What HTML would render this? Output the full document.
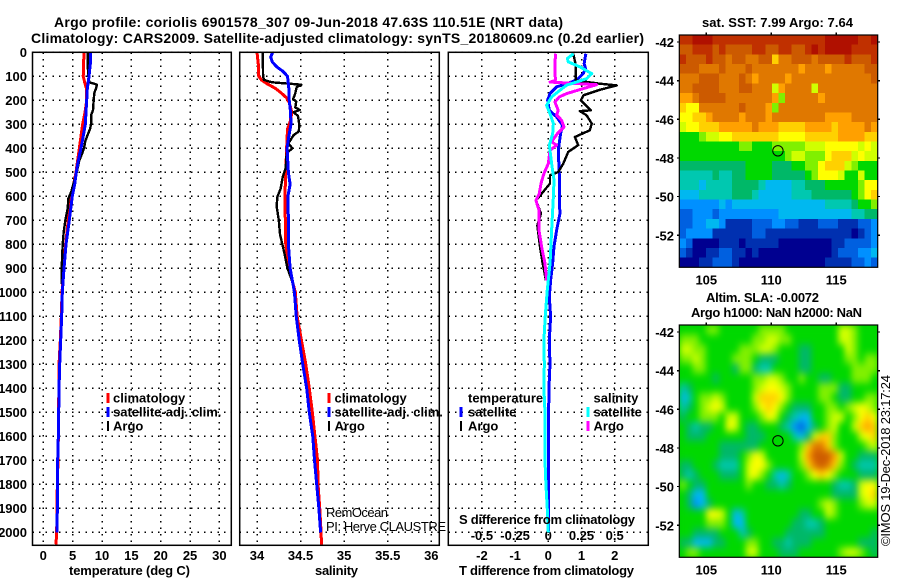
<!DOCTYPE html>
<html>
<head>
<meta charset="utf-8">
<title>Argo profile</title>
<style>
html,body{margin:0;padding:0;background:#fff;}
svg{display:block;font-family:"Liberation Sans",sans-serif;}
text{fill:#000;}
.b{font-weight:700;font-size:13px;}
.t{font-weight:700;font-size:14px;}
.n{font-weight:400;font-size:13px;}
</style>
</head>
<body>
<svg id="chart" xmlns="http://www.w3.org/2000/svg" width="900" height="580" viewBox="0 0 900 580">
<defs>
<filter id="smooth" x="-5%" y="-5%" width="110%" height="110%" color-interpolation-filters="sRGB"><feGaussianBlur stdDeviation="3.2 4"/></filter>
<clipPath id="slaClip"><rect x="679.3" y="325" width="198.4" height="232.3"/></clipPath>
</defs>
<rect x="0" y="0" width="900" height="580" fill="#fff"/>
<text class="t" x="54" y="27" textLength="509" lengthAdjust="spacing">Argo profile: coriolis 6901578_307 09-Jun-2018 47.63S 110.51E (NRT data)</text>
<text class="t" x="31" y="43" textLength="613" lengthAdjust="spacing">Climatology: CARS2009. Satellite-adjusted climatology: synTS_20180609.nc (0.2d earlier)</text>
<text class="b" x="702" y="27" textLength="151" lengthAdjust="spacing">sat. SST: 7.99 Argo: 7.64</text>
<text class="b" x="706" y="302" textLength="113" lengthAdjust="spacing">Altim. SLA: -0.0072</text>
<text class="b" x="691" y="317" textLength="171" lengthAdjust="spacing">Argo h1000: NaN h2000: NaN</text>
<text class="b" x="69" y="575" textLength="121" lengthAdjust="spacing">temperature (deg C)</text>
<text class="b" x="315" y="575" textLength="43" lengthAdjust="spacing">salinity</text>
<text class="b" x="459" y="575" textLength="175" lengthAdjust="spacing">T difference from climatology</text>
<g id="plots"></g>
<g id="maps"></g>
<text class="n" x="326" y="517" textLength="62" lengthAdjust="spacing">RemOcean</text>
<text class="n" x="326" y="531" textLength="120" lengthAdjust="spacing">PI: Herve CLAUSTRE</text>
<text class="b" x="459" y="524" textLength="176" lengthAdjust="spacing">S difference from climatology</text>
<text class="n" transform="translate(890,546) rotate(-90)" x="0" y="0" textLength="171" lengthAdjust="spacing">©IMOS 19-Dec-2018 23:17:24</text>
</svg>
<script>
var depthTicks = [0,100,200,300,400,500,600,700,800,900,1000,1100,1200,1300,1400,1500,1600,1700,1800,1900,2000];
var tempTicks = [0,5,10,15,20,25,30];
var salTicks = [34,34.5,35,35.5,36];
var salTickLabels = ["34","34.5","35","35.5","36"];
var diffTTicks = [-2,-1,0,1,2];
var diffSTicks = [-0.5,-0.25,0,0.25,0.5];
var diffSTickLabels = ["-0.5","-0.25","0","0.25","0.5"];
var lonTicks = [105,110,115];
var latTicks = [-42,-44,-46,-48,-50,-52];
var argoLon = 110.51;
var argoLat = -47.63;

var climTDepth = [0,100,130,150,200,250,300,350,400,450,500,550,600,700,800,900,1000,1100,1200,1300,1400,1500,1600,1700,1800,1900,2000,2050];
var climTValue = [6.93,6.8,7.1,7.33,7.4,7.1,6.7,6.42,6.14,5.85,5.57,5.17,4.78,4.26,3.8,3.47,3.19,3.07,2.9,2.68,2.68,2.56,2.56,2.5,2.39,2.33,2.28,2.16];
var satTDepth = [0,50,100,150,200,250,300,350,400,450,500,550,600,700,800,900,1000,1100,1200,1300,1400,1500,1600,1700,1800,1900,2000];
var satTValue = [8.07,8.0,7.79,7.5,7.39,7.27,7.16,6.8,6.42,5.97,5.62,5.35,4.94,4.43,3.87,3.53,3.24,3.13,2.96,2.79,2.68,2.62,2.56,2.45,2.39,2.39,2.33];
var argoTDepth = [0,50,100,125,130,135,150,170,200,240,260,290,320,340,370,400,420,450,500,550,580,610,650,700,750,800,900,965];
var argoTValue = [7.56,7.56,7.67,7.84,8.52,9.15,8.98,8.69,8.58,8.47,8.18,8.2,7.96,7.62,7.16,6.93,6.65,6.14,5.69,5.11,4.77,4.26,4.16,3.75,3.47,3.3,3.13,3.13];

var climSDepth = [0,50,100,115,130,150,170,190,210,250,290,320,400,500,600,700,800,850,900,1000,1100,1200,1300,1400,1500,1600,1700,1800,1900,2000,2050];
var climSValue = [34,34.015,34.02,34.05,34.11,34.21,34.28,34.34,34.37,34.4,34.38,34.35,34.34,34.33,34.32,34.325,34.33,34.35,34.365,34.44,34.46,34.51,34.56,34.6,34.635,34.665,34.695,34.7,34.72,34.735,34.74];
var satSDepth = [0,20,40,60,80,100,150,200,250,300,350,400,500,550,600,700,800,900,1000,1100,1200,1300,1400,1500,1600,1700,1800,1900,2000];
var satSValue = [34.18,34.157,34.175,34.225,34.3,34.35,34.365,34.37,34.385,34.39,34.365,34.345,34.36,34.38,34.355,34.36,34.36,34.38,34.43,34.45,34.485,34.525,34.57,34.6,34.64,34.66,34.685,34.71,34.73];
var argoSDepth = [0,100,115,125,130,135,145,170,195,205,230,240,250,265,300,330,345,380,400,420,480,520,570,600,640,700,760,830,900,960];
var argoSValue = [34.065,34.07,34.08,34.17,34.34,34.51,34.455,34.44,34.415,34.45,34.44,34.49,34.42,34.47,34.485,34.48,34.42,34.36,34.405,34.34,34.33,34.295,34.27,34.235,34.225,34.25,34.265,34.31,34.35,34.41];

var diffSatTDepth = [6,47,68,89,110,124,144,172,200,242,269,304,339,408,505,603,672,742,811,880,950,1019,1100,1200,1300,1400,1600,2000];
var diffSatTValue = [1.13,1.08,1.12,1.05,0.9,0.7,0.25,0.05,-0.02,0.03,0.25,0.43,0.37,0.3,0.33,0.33,0.35,0.25,0.17,0.13,0.07,0.03,0.07,0.03,0.05,0.02,0,0];
var diffArgoTDepth = [6,47,117,130,138,156,179,200,242,245,262,297,325,353,387,415,464,499,512,547,589,617,672,721,811,880,950];
var diffArgoTValue = [0.75,0.82,0.83,1.5,2.06,1.56,1.06,0.98,1.28,0.95,1.15,1.31,1.25,0.8,0.9,0.6,0.45,0.3,0.05,0.05,-0.2,-0.37,-0.22,-0.33,-0.25,-0.17,-0.07];
var diffSatSDepth = [6,26,40,61,89,110,137,158,186,221,256,297,339,387,464,533,603,742,880,992,1100,1200,1300,1400,1500,1600,1700,1800,1900,2000];
var diffSatSValue = [0.189,0.143,0.151,0.239,0.327,0.289,0.138,0.088,0.025,-0.013,0.013,0.038,0.033,0.008,0.025,0.043,0.038,0.025,0.013,-0.008,-0.023,-0.033,-0.03,-0.033,-0.025,-0.023,-0.025,-0.018,-0.008,0];
var diffArgoSDepth = [6,47,117,124,135,151,172,186,207,242,262,283,311,339,373,387,408,464,505,547,589,617,658,700,742,811,880,950];
var diffArgoSValue = [0.055,0.05,0.053,0.013,0.363,0.264,0.138,0.083,0.05,0.075,0.063,0.1,0.118,0.068,0.025,0.063,0.013,0,-0.033,-0.055,-0.068,-0.093,-0.07,-0.07,-0.07,-0.05,-0.025,-0.013];

var colorLevels = {"0":"#000090","1":"#0030b0","2":"#0060e0","3":"#0090ff","4":"#00b8f0","5":"#00c8b0","6":"#00b868","7":"#00d800","8":"#80f000","9":"#d0ff00","a":"#ffff00","b":"#ffd000","c":"#ffa000","d":"#e07800","e":"#cc5a00","f":"#c03000","g":"#b01000"};

var sstRows = [
"ffggg fffff fffff fffff ffggg ggffg",
"eefff efeee effee ffeef gfggg gffff",
"feeef eedee ddeeb ddeee deeee feeef",
"eeedd deddd edddd dddcd ddcdd dddee",
"dddee eddde dcddd dcddd ddddd dddde",
"ddeee eddde eddd9 cdddd 9dddd ddddd",
"ccdee eeddd ddddc 8dddd dcddd ddddd",
"baadd dddde dddc8 ddddd ddddd ddddd",
"aabbc ddddc dddcd ddddd ddccc cdddd",
"9aabb bcccc cdccc bbbbc cccbc cccdc",
"77789 9aabb bbbbb aaaab bbbbc cccbb",
"77777 77778 87778 88889 99aaa aa9a9",
"77777 77777 77777 78998 88abb b9a99",
"66666 66666 77776 66778 8abbb 98777",
"55555 65566 77776 66667 8aaa9 77977",
"55545 55566 66544 44556 66777 778aa",
"44455 55566 65444 44555 66666 678ab",
"33333 34344 44444 44444 44555 56778",
"22333 23333 33333 44444 44444 45566",
"22334 43111 12223 32211 12221 11223",
"23333 11111 12211 11111 11111 10123",
"32000 01110 11111 00000 00011 22223",
"21001 12211 01000 00000 00012 22334",
"00011 22210 00000 00000 00111 12232"
];
var slaRows = [
"77778 87777 77888 87777 77779 98777",
"88877 77777 78899 88777 77779 98777",
"99887 77778 88998 77766 77777 98777",
"88987 77788 87666 77766 77777 88788",
"77887 77768 86557 77766 77777 78888",
"77777 67777 78899 87787 76677 78887",
"56777 77777 789aa 98777 78886 67777",
"45788 98777 79bbb a8777 78876 67788",
"56789 a9777 78aba 87666 77887 89a98",
"67788 87997 778a9 76544 77899 78aba",
"76566 77a97 66777 65324 67897 79bcb",
"76667 77777 66677 77546 9bb87 779ab",
"77777 76666 66777 7778b ddb87 77789",
"77777 76667 8a977 7779c eeec9 77666",
"66777 65557 9aa87 7778b dedb8 76555",
"65677 76667 9a875 45778 aba87 77666",
"87667 77777 87766 56777 77765 569aa",
"76447 77777 77777 77777 77766 669ab",
"76346 77777 77777 77777 78987 77899",
"7777a a9745 77777 77766 77987 77777",
"77778 88744 77777 77665 56777 77777",
"77666 67775 67777 76666 66777 77776",
"66444 66777 88776 65666 77777 77666",
"78877 77777 99777 66677 77778 99876"
];

var NS = "http://www.w3.org/2000/svg";
var DEPTH_TOP = 52.3, DEPTH_SCALE = 0.24, PLOT_BOTTOM = 545.3;
function yDepth(d){ return DEPTH_TOP + DEPTH_SCALE * d; }
function xTemp(t){ return 43.3 + 5.87 * t; }
function xSal(s){ return 257 + 87.15 * (s - 34); }
function xDiffT(v){ return 548.3 + 33.2 * v; }
function xDiffS(v){ return 548.3 + 132.8 * v; }
function xLon(lon){ return 771.3 + 13 * (lon - 110); }
function yLatTop(lat){ return 42 + 19.33 * (-42 - lat); }

function svgEl(tag, parent, attrs){
  var el = document.createElementNS(NS, tag);
  for (var k in attrs) el.setAttribute(k, attrs[k]);
  parent.appendChild(el);
  return el;
}
function addText(parent, str, x, y, anchor, name){
  var t = svgEl("text", parent, {x:x, y:y, "text-anchor":anchor, "class":"b"});
  t.textContent = str;
  
  
  return t;
}
function addLine(parent, x1, y1, x2, y2, stroke, width, dash, name){
  var l = svgEl("line", parent, {x1:x1, y1:y1, x2:x2, y2:y2, stroke:stroke, "stroke-width":width, "shape-rendering":"crispEdges"});
  if (dash) l.setAttribute("stroke-dasharray", dash);
  
  
  return l;
}
function addSeries(parent, depths, values, xFn, color, width, name){
  var pts = [];
  for (var i = 0; i < depths.length; i++) pts.push(xFn(values[i]).toFixed(2) + "," + yDepth(depths[i]).toFixed(2));
  var p = svgEl("polyline", parent, {points:pts.join(" "), fill:"none", stroke:color, "stroke-width":width, "stroke-linejoin":"round", "shape-rendering":"crispEdges"});
  
  
  return p;
}
function addPanel(root, name, left, right, xTicks, xFn, labels){
  var g = svgEl("g", root, {});
  
  
  depthTicks.forEach(function(d){
    addLine(g, left, yDepth(d), right, yDepth(d), "#000", 1.5, "1.5 5.1", name + "-depth-grid");
  });
  xTicks.forEach(function(v, i){
    addLine(g, xFn(v), DEPTH_TOP, xFn(v), PLOT_BOTTOM, "#000", 1.5, "1.5 5.1", name + "-x-grid");
    addText(g, labels ? labels[i] : String(v), xFn(v), 560, "middle", name + "-x-tick-label");
  });
  return g;
}
function addFrame(g, left, right, name){
  var r = svgEl("rect", g, {x:left, y:DEPTH_TOP, width:right-left, height:PLOT_BOTTOM-DEPTH_TOP, fill:"none", stroke:"#000", "stroke-width":1.5});
  
  
}
function addLegend(parent, barX, textX, centerY, color, width, label, name){
  if (color) addLine(parent, barX, centerY - 5, barX, centerY + 5, color, width, null, name + "-swatch");
  addText(parent, label, textX, centerY + 4.5, "start", name);
}

var plots = document.getElementById("plots");
depthTicks.forEach(function(d){
  addText(plots, String(d), 27, yDepth(d) + 4.5, "end", "depth-tick-label");
});

var p1 = addPanel(plots, "temperature-panel", 32.5, 231.3, tempTicks, xTemp);
addSeries(p1, climTDepth, climTValue, xTemp, "#ff0000", 3, "temperature-climatology-line");
addSeries(p1, argoTDepth, argoTValue, xTemp, "#000000", 2.4, "temperature-argo-line");
addSeries(p1, satTDepth, satTValue, xTemp, "#0000ff", 3, "temperature-satellite-line");
addFrame(p1, 32.5, 231.3, "temperature-panel-frame");
addLegend(p1, 108, 113, 398, "#ff0000", 3, "climatology", "temperature-legend-climatology");
addLegend(p1, 108, 113, 412, "#0000ff", 3, "satellite-adj. clim.", "temperature-legend-satellite");
addLegend(p1, 108, 113, 426, "#000000", 2, "Argo", "temperature-legend-argo");

var p2 = addPanel(plots, "salinity-panel", 239.7, 439.3, salTicks, xSal, salTickLabels);
addSeries(p2, climSDepth, climSValue, xSal, "#ff0000", 3, "salinity-climatology-line");
addSeries(p2, argoSDepth, argoSValue, xSal, "#000000", 2.4, "salinity-argo-line");
addSeries(p2, satSDepth, satSValue, xSal, "#0000ff", 3, "salinity-satellite-line");
addFrame(p2, 239.7, 439.3, "salinity-panel-frame");
addLegend(p2, 329, 334.5, 398, "#ff0000", 3, "climatology", "salinity-legend-climatology");
addLegend(p2, 329, 334.5, 412, "#0000ff", 3, "satellite-adj. clim.", "salinity-legend-satellite");
addLegend(p2, 329, 334.5, 426, "#000000", 2, "Argo", "salinity-legend-argo");

var p3 = addPanel(plots, "difference-panel", 448.3, 648.3, diffTTicks, xDiffT);
diffSTicks.forEach(function(v, i){
  addText(p3, diffSTickLabels[i], xDiffS(v), 540, "middle", "s-difference-tick-label");
});
addSeries(p3, diffSatTDepth, diffSatTValue, xDiffT, "#0000ff", 3, "t-difference-satellite-line");
addSeries(p3, diffArgoTDepth, diffArgoTValue, xDiffT, "#000000", 2.4, "t-difference-argo-line");
addSeries(p3, diffArgoSDepth, diffArgoSValue, xDiffS, "#ff00ff", 3, "s-difference-argo-line");
addSeries(p3, diffSatSDepth, diffSatSValue, xDiffS, "#00ffff", 3, "s-difference-satellite-line");
addFrame(p3, 448.3, 648.3, "difference-panel-frame");
addLegend(p3, 461, 468, 398, null, 0, "temperature", "difference-legend-temperature-heading");
addLegend(p3, 461, 468, 412, "#0000ff", 3, "satellite", "difference-legend-t-satellite");
addLegend(p3, 461, 468, 426, "#000000", 2, "Argo", "difference-legend-t-argo");
addLegend(p3, 588, 593.5, 398, null, 0, "salinity", "difference-legend-salinity-heading");
addLegend(p3, 588, 593.5, 412, "#00ffff", 3, "satellite", "difference-legend-s-satellite");
addLegend(p3, 588, 593.5, 426, "#ff00ff", 3, "Argo", "difference-legend-s-argo");

function addMap(rows, offsetY, name, smooth){
  var root = document.getElementById("maps");
  var g = svgEl("g", root, {});
  
  
  var left = 679.3, right = 877.7, top = 35 + offsetY, bottom = 267.3 + offsetY;
  var cw = (right - left) / 30, ch = (bottom - top) / rows.length;
  svgEl("rect", g, {x:left, y:top, width:right-left, height:bottom-top, fill:"#00d000"});
  var clip = svgEl("g", g, {});
  var cellGroup = svgEl("g", clip, {});
  if (smooth){
    clip.setAttribute("clip-path", "url(#slaClip)");
    cellGroup.setAttribute("filter", "url(#smooth)");
  }
  rows.forEach(function(row, r){
    var cells = row.replace(/ /g, "");
    for (var c = 0; c < cells.length && c < 30; c++){
      var cell = svgEl("rect", cellGroup, {x:(left + c*cw).toFixed(2), y:(top + r*ch).toFixed(2), width:(cw+0.3).toFixed(2), height:(ch+0.3).toFixed(2), fill:colorLevels[cells[c]], "shape-rendering":"crispEdges"});
      
      
    }
  });
  var frame = svgEl("rect", g, {x:left, y:top, width:right-left, height:bottom-top, fill:"none", stroke:"#000", "stroke-width":1.2});
  
  
  lonTicks.forEach(function(lon){
    addLine(g, xLon(lon), top - 2.5, xLon(lon), top, "#000", 1.2, null, name + "-lon-tick");
    addText(g, String(lon), xLon(lon), bottom + 17, "middle", name + "-lon-tick-label");
  });
  latTicks.forEach(function(lat){
    var y = yLatTop(lat) + offsetY;
    addLine(g, left - 2.5, y, left, y, "#000", 1.2, null, name + "-lat-tick");
    addLine(g, right, y, right + 2.5, y, "#000", 1.2, null, name + "-lat-tick-right");
    addText(g, String(lat), 674, y + 5, "end", name + "-lat-tick-label");
  });
  var marker = svgEl("circle", g, {cx:xLon(argoLon), cy:yLatTop(argoLat) + offsetY, r:5.2, fill:"none", stroke:"#000", "stroke-width":1});
  
  
}
addMap(sstRows, 0, "sst-map", false);
addMap(slaRows, 290, "sla-map", true);
</script>
</body>
</html>
